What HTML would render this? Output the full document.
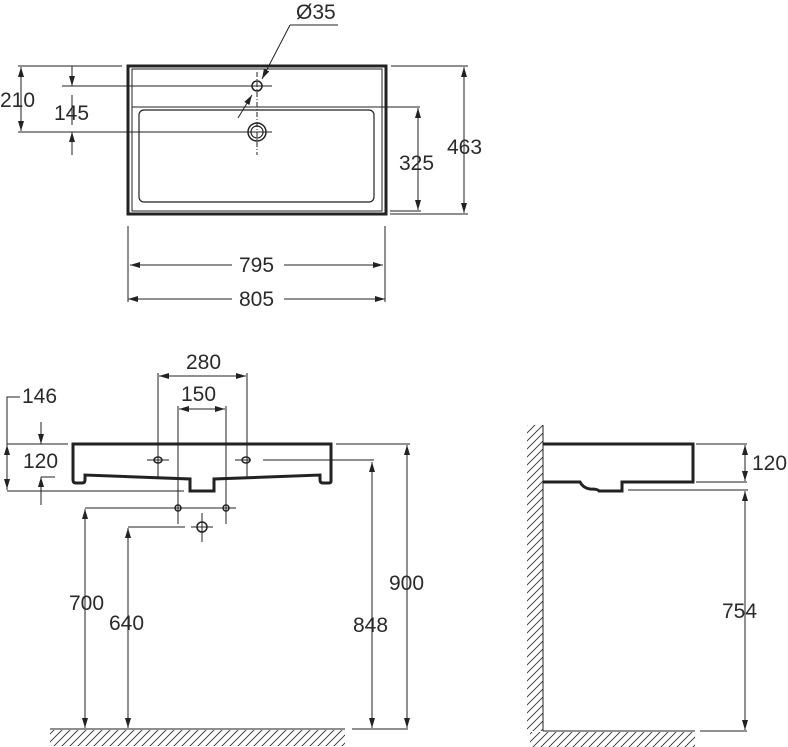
<!DOCTYPE html>
<html><head><meta charset="utf-8"><style>
html,body{margin:0;padding:0;background:#fff;}
svg{display:block;}
text{font-family:"Liberation Sans",sans-serif;font-size:21px;fill:#2a2a2a;}
</style></head><body>
<svg width="788" height="747" viewBox="0 0 788 747" xmlns="http://www.w3.org/2000/svg">
<defs>
<marker id="a" viewBox="0 0 10 6" refX="10" refY="3" markerWidth="10" markerHeight="6" orient="auto-start-reverse" markerUnits="userSpaceOnUse"><path d="M0,0 L10,3 L0,6 Z" fill="#222"/></marker>
<pattern id="h" width="8" height="8" patternUnits="userSpaceOnUse"><path d="M-2,10 L10,-2 M-2,2 L2,-2 M6,10 L10,6" stroke="#333" stroke-width="0.9"/></pattern>
</defs>
<g stroke="#222" fill="none" stroke-width="1">
<!-- TOP VIEW -->
<rect x="128" y="66" width="258" height="148" stroke-width="3"/>
<rect x="132" y="69" width="250" height="142" stroke-width="1"/>
<rect x="139" y="110" width="235" height="92" rx="5" stroke-width="1.2"/>
<line x1="132" y1="107" x2="420" y2="107"/>
<circle cx="257" cy="86" r="5" stroke-width="1.5"/>
<circle cx="257" cy="132" r="9" stroke-width="1.5"/>
<circle cx="257" cy="132" r="6" stroke-width="1.2"/>
<line x1="257" y1="72" x2="257" y2="155" stroke-dasharray="5,2,1,2"/>
<line x1="62" y1="86" x2="272" y2="86"/>
<line x1="18" y1="132" x2="272" y2="132"/>
<line x1="18" y1="66" x2="122" y2="66"/>
<line x1="21" y1="67" x2="21" y2="131" marker-start="url(#a)" marker-end="url(#a)"/>
<line x1="72" y1="66" x2="72" y2="86" marker-end="url(#a)"/>
<line x1="72" y1="155" x2="72" y2="132" marker-end="url(#a)"/>
<line x1="72" y1="95" x2="72" y2="125"/>
<line x1="391" y1="66" x2="468" y2="66"/>
<line x1="390" y1="214" x2="468" y2="214"/>
<line x1="390" y1="211" x2="421" y2="211"/>
<line x1="464" y1="67" x2="464" y2="213" marker-start="url(#a)" marker-end="url(#a)"/>
<line x1="418" y1="108" x2="418" y2="210" marker-start="url(#a)" marker-end="url(#a)"/>
<line x1="290" y1="25" x2="338" y2="25"/>
<line x1="290" y1="25" x2="262" y2="79" marker-end="url(#a)"/>
<line x1="238" y1="118" x2="252" y2="95" marker-end="url(#a)"/>
<line x1="128" y1="226" x2="128" y2="302"/>
<line x1="385" y1="226" x2="385" y2="302"/>
<line x1="130" y1="265" x2="232" y2="265" marker-start="url(#a)"/>
<line x1="284" y1="265" x2="383" y2="265" marker-end="url(#a)"/>
<line x1="128" y1="299" x2="232" y2="299" marker-start="url(#a)"/>
<line x1="284" y1="299" x2="385" y2="299" marker-end="url(#a)"/>

<!-- FRONT VIEW -->
<path d="M73,444 H331 V481 Q331,483 329,483 H323 Q320,483 320,480 V475 L214,479 V491 H190 V479 L85,475 V480 Q85,483 82,483 H76 Q73,483 73,480 Z" stroke-width="3"/>
<ellipse cx="158" cy="460" rx="4" ry="3" stroke-width="1.5"/>
<ellipse cx="246" cy="460" rx="4" ry="3" stroke-width="1.5"/>
<line x1="147" y1="460" x2="169" y2="460"/>
<line x1="235" y1="460" x2="251" y2="460"/>
<line x1="263" y1="460" x2="374" y2="460"/>
<line x1="158" y1="373" x2="158" y2="477"/>
<line x1="247" y1="373" x2="247" y2="477"/>
<line x1="178" y1="406" x2="178" y2="524"/>
<line x1="226" y1="406" x2="226" y2="524"/>
<line x1="159" y1="376" x2="246" y2="376" marker-start="url(#a)" marker-end="url(#a)"/>
<line x1="179" y1="409" x2="225" y2="409" marker-start="url(#a)" marker-end="url(#a)"/>
<path d="M20,397 H7 V490"/>
<line x1="7" y1="444" x2="68" y2="444"/>
<line x1="7" y1="445" x2="7" y2="489" marker-start="url(#a)" marker-end="url(#a)"/>
<line x1="7" y1="491" x2="184" y2="491"/>
<line x1="41" y1="422" x2="41" y2="444" marker-end="url(#a)"/>
<line x1="41" y1="505" x2="41" y2="477" marker-end="url(#a)"/>
<line x1="41" y1="477" x2="55" y2="477"/>
<line x1="85" y1="508" x2="236" y2="508"/>
<circle cx="178" cy="508" r="3" stroke-width="1.5"/>
<circle cx="226" cy="508" r="3" stroke-width="1.5"/>
<circle cx="202" cy="527" r="5" stroke-width="1.5"/>
<line x1="191" y1="527" x2="213" y2="527"/>
<line x1="202" y1="513" x2="202" y2="542"/>
<line x1="128" y1="527" x2="185" y2="527"/>
<line x1="85" y1="509" x2="85" y2="728" marker-start="url(#a)" marker-end="url(#a)"/>
<line x1="128" y1="528" x2="128" y2="728" marker-start="url(#a)" marker-end="url(#a)"/>
<line x1="372" y1="462" x2="372" y2="728" marker-start="url(#a)" marker-end="url(#a)"/>
<line x1="336" y1="444" x2="410" y2="444"/>
<line x1="407" y1="445" x2="407" y2="728" marker-start="url(#a)" marker-end="url(#a)"/>
<line x1="50" y1="729" x2="345" y2="729"/>
<line x1="352" y1="729" x2="408" y2="729"/>
<rect x="50" y="730" width="295" height="16" fill="url(#h)" stroke="none"/>

<!-- SIDE VIEW -->
<line x1="543" y1="425" x2="543" y2="731"/>
<rect x="527" y="425" width="16" height="306" fill="url(#h)" stroke="none"/>
<path d="M543,444 H693 V482 H622 V491 H599 Q598,489 590,489 Q583,488 580,482 H543" stroke-width="3"/>
<line x1="696" y1="444" x2="747" y2="444"/>
<line x1="696" y1="482" x2="747" y2="482"/>
<line x1="745" y1="445" x2="745" y2="481" marker-start="url(#a)" marker-end="url(#a)"/>
<line x1="628" y1="490" x2="748" y2="490"/>
<line x1="745" y1="491" x2="745" y2="730" marker-start="url(#a)" marker-end="url(#a)"/>
<line x1="543" y1="731" x2="695" y2="731"/>
<line x1="700" y1="731" x2="747" y2="731"/>
<rect x="530" y="732" width="165" height="15" fill="url(#h)" stroke="none"/>
</g>
<text x="296" y="19">Ø35</text>
<text x="0" y="107">210</text>
<text x="54" y="120">145</text>
<text x="399" y="170">325</text>
<text x="447" y="154">463</text>
<text x="239" y="272">795</text>
<text x="239" y="306">805</text>
<text x="186" y="369">280</text>
<text x="181" y="401">150</text>
<text x="22" y="403">146</text>
<text x="23" y="468">120</text>
<text x="69" y="610">700</text>
<text x="109" y="630">640</text>
<text x="353" y="632">848</text>
<text x="389" y="590">900</text>
<text x="752" y="470">120</text>
<text x="722" y="618">754</text>
</svg>
</body></html>
